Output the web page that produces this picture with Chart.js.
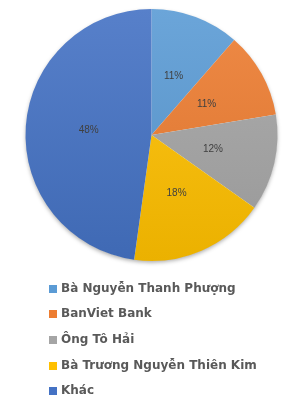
<!DOCTYPE html>
<html>
<head>
<meta charset="utf-8">
<script src="https://cdn.jsdelivr.net/npm/chart.js@4"></script>
<style>
  html, body { margin: 0; padding: 0; background: #fff; }
  #wrap { width: 303px; height: 399px; }
</style>
</head>
<body>
<div id="wrap"><canvas id="pie" width="303" height="399"></canvas></div>
<script>
const labels = ['Bà Nguyễn Thanh Phượng', 'BanViet Bank', 'Ông Tô Hải', 'Bà Trương Nguyễn Thiên Kim', 'Khác'];
const shares = [11.4, 11.0, 12.4, 17.4, 47.8];
const pctLabels = ['11%', '11%', '12%', '18%', '48%'];
const colors = ['#5b9bd5', '#ed7d31', '#a5a5a5', '#ffc000', '#4472c4'];

const shade = (hex, amt) => {
    const n = parseInt(hex.slice(1), 16);
    const f = c => Math.max(0, Math.min(255, Math.round(c + (amt > 0 ? (255 - c) * amt : c * amt))));
    return `rgb(${f(n >> 16)}, ${f((n >> 8) & 255)}, ${f(n & 255)})`;
};

const sliceFill = (ctx) => {
    const chart = ctx.chart;
    const area = chart.chartArea;
    if (!area) return colors[ctx.dataIndex];
    const g = chart.ctx.createLinearGradient(0, area.top, 0, area.bottom);
    g.addColorStop(0, shade(colors[ctx.dataIndex], 0.1));
    g.addColorStop(1, shade(colors[ctx.dataIndex], -0.08));
    return g;
};

// soft shadow under the pie
const pieShadow = {
    id: 'pieShadow',
    beforeDatasetsDraw(chart) {
        const arc = chart.getDatasetMeta(0).data[0];
        if (!arc) return;
        const c = chart.ctx;
        c.save();
        c.shadowColor = 'rgba(0,0,0,0.35)';
        c.shadowBlur = 4;
        c.shadowOffsetY = 2;
        c.fillStyle = '#fff';
        c.beginPath();
        c.arc(arc.x, arc.y, arc.outerRadius - 0.5, 0, Math.PI * 2);
        c.fill();
        c.restore();
    }
};

const pctText = {
    id: 'pctText',
    afterDatasetsDraw(chart) {
        const c = chart.ctx;
        c.save();
        c.font = '10px "Liberation Sans", Arial, sans-serif';
        c.fillStyle = '#404040';
        c.textAlign = 'center';
        c.textBaseline = 'middle';
        chart.getDatasetMeta(0).data.forEach((arc, i) => {
            const p = arc.tooltipPosition();
            c.fillText(pctLabels[i], p.x, p.y);
        });
        c.restore();
    }
};

// one entry per row under the pie
const listLegend = {
    id: 'listLegend',
    afterDraw(chart) {
        const c = chart.ctx;
        c.save();
        c.font = 'bold 12px "DejaVu Sans", sans-serif';
        c.textBaseline = 'middle';
        labels.forEach((lab, i) => {
            const y = 288.5 + i * 25.7;
            c.fillStyle = colors[i];
            c.fillRect(49, Math.round(y) - 4, 8, 8);
            c.fillStyle = '#595959';
            c.fillText(lab, 61, y);
        });
        c.restore();
    }
};

new Chart(document.getElementById('pie'), {
    type: 'pie',
    data: {
        labels: labels,
        datasets: [{
            data: shares,
            backgroundColor: sliceFill,
            borderWidth: 0
        }]
    },
    options: {
        responsive: false,
        animation: false,
        layout: { padding: { top: 9, bottom: 138, left: 0, right: 0 } },
        plugins: {
            legend: { display: false },
            tooltip: { enabled: false }
        }
    },
    plugins: [pieShadow, pctText, listLegend]
});
</script>
</body>
</html>
